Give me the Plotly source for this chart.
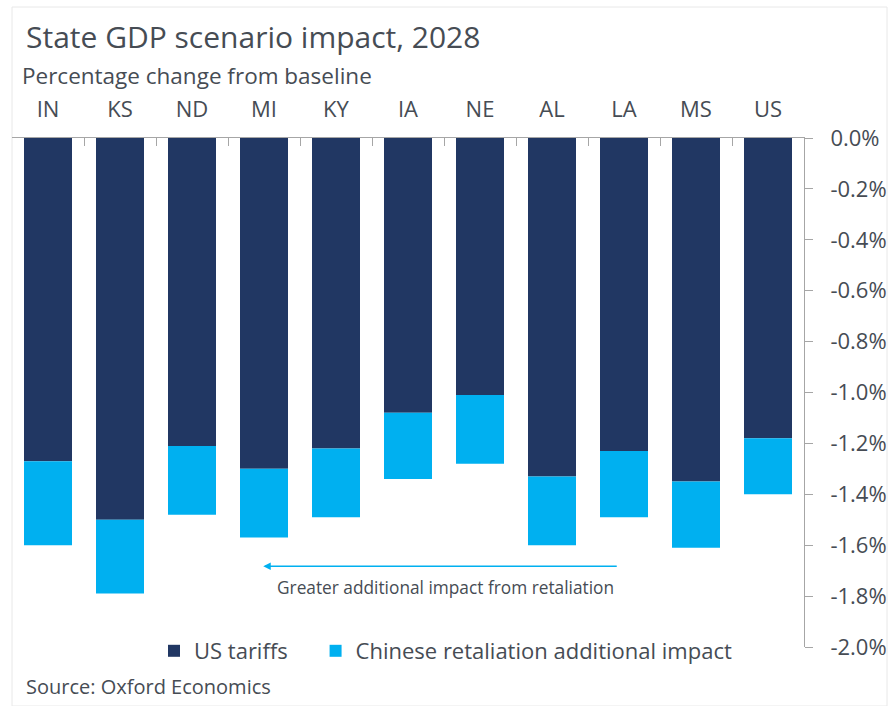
import plotly.graph_objects as go

# State GDP impact in 2028, percentage change from baseline
states = ["IN", "KS", "ND", "MI", "KY", "IA", "NE", "AL", "LA", "MS", "US"]
us_tariffs = [-1.27, -1.50, -1.21, -1.30, -1.22, -1.08, -1.01, -1.33, -1.23, -1.35, -1.18]
retaliation_extra = [-0.33, -0.29, -0.27, -0.27, -0.27, -0.26, -0.27, -0.27, -0.26, -0.26, -0.22]
y_ticks = [0.0, -0.2, -0.4, -0.6, -0.8, -1.0, -1.2, -1.4, -1.6, -1.8, -2.0]
y_tick_labels = [f"{v:.1f}%".replace("\u2212", "-") for v in y_ticks]

W, H = 892, 706
ML, MR, MT, MB = 12, 88, 138, 59
PW, PH = W - ML - MR, H - MT - MB

def px_x(p):
    return (p - ML) / PW

def px_y(p):
    return (H - MB - p) / PH

FONT = "Open Sans"
TEXT = "#464C54"
AXIS = "#A6A6A6"
NAVY = "#213763"
CYAN = "#00B0F0"
GAP = "\u00a0" * 4  # spacing after the first legend entry

fig = go.Figure()
fig.add_trace(go.Bar(x=states, y=us_tariffs, name="US tariffs" + GAP,
                     marker=dict(color=NAVY, line=dict(width=0))))
fig.add_trace(go.Bar(x=states, y=retaliation_extra,
                     name="Chinese retaliation additional impact",
                     marker=dict(color=CYAN, line=dict(width=0))))

fig.update_layout(
    width=W, height=H,
    margin=dict(l=ML, r=MR, t=MT, b=MB, autoexpand=False),
    barmode="relative", bargap=1/3,
    plot_bgcolor="white", paper_bgcolor="white",
    font=dict(family=FONT, color=TEXT),
    showlegend=True,
    legend=dict(orientation="h", x=px_x(154), xanchor="left",
                y=px_y(651), yanchor="middle",
                font=dict(size=22, color=TEXT), traceorder="normal",
                itemwidth=30, bgcolor="rgba(0,0,0,0)"),
    xaxis=dict(side="top", showline=True, linecolor=AXIS, linewidth=1,
               ticks="inside", tickson="boundaries", ticklen=8,
               tickcolor=AXIS, showgrid=False, ticklabelstandoff=11,
               automargin=False, tickfont=dict(size=22, color=TEXT)),
    yaxis=dict(side="right", range=[-2, 0], autorange=False,
               tickmode="array", tickvals=y_ticks, ticktext=y_tick_labels,
               showline=True, linecolor=AXIS, linewidth=1,
               ticks="outside", ticklen=8, tickcolor=AXIS,
               showgrid=False, zeroline=False, ticklabelstandoff=13,
               automargin=False, tickfont=dict(size=22, color=TEXT)),
)

# light frame round the chart
fig.add_shape(type="rect", xref="paper", yref="paper",
              x0=px_x(12), x1=px_x(887), y0=px_y(706), y1=px_y(7),
              line=dict(color="#E8E8E8", width=1), layer="below")

# titles and source
fig.add_annotation(text="State GDP scenario impact, 2028", xref="paper", yref="paper",
                   x=px_x(24), y=px_y(37), xanchor="left", yanchor="middle",
                   showarrow=False, font=dict(size=30, color=TEXT))
fig.add_annotation(text="Percentage change from baseline", xref="paper", yref="paper",
                   x=px_x(20), y=px_y(76), xanchor="left", yanchor="middle",
                   showarrow=False, font=dict(size=22.5, color=TEXT))
fig.add_annotation(text="Source: Oxford Economics", xref="paper", yref="paper",
                   x=px_x(24), y=px_y(686), xanchor="left", yanchor="middle",
                   showarrow=False, font=dict(size=20, color=TEXT))

# arrow pointing towards larger retaliation effects
fig.add_annotation(x=2.99, y=-1.683, ax=7.92, ay=-1.683, xref="x", yref="y",
                   axref="x", ayref="y", text="", showarrow=True,
                   arrowhead=2, arrowsize=1, arrowwidth=1.5, arrowcolor=CYAN)
fig.add_annotation(text="Greater additional impact from retaliation",
                   x=5.52, y=-1.765, xref="x", yref="y", showarrow=False,
                   xanchor="center", yanchor="middle",
                   font=dict(size=17.3, color=TEXT))

fig.write_html("out.html")
